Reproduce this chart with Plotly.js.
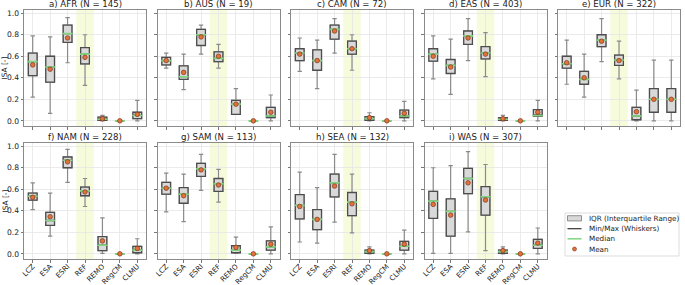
<!DOCTYPE html>
<html><head><meta charset="utf-8">
<script src="https://cdn.plot.ly/plotly-3.0.1.min.js"></script>
<style>html,body{margin:0;padding:0;background:#fff}#chart{width:685px;height:285px}</style>
</head><body><div id="chart"></div>
<script>
// ---------------- data ----------------
const categories = ['LCZ', 'ESA', 'ESRI', 'REF', 'REMO', 'RegCM', 'CLMU'];
const highlightCategory = 'REF';
const regionLabels = ['a) AFR', 'b) AUS', 'c) CAM', 'd) EAS', 'e) EUR', 'f) NAM', 'g) SAM', 'h) SEA', 'i) WAS'];
const regionN = [145, 19, 72, 403, 322, 228, 113, 132, 307];
const yTickValues = [0, 0.2, 0.4, 0.6, 0.8, 1.0];
const yAxisLabel = 'ISA [-]';

const minValues = [
  [0.22, 0.07, 0.54, 0.33, 0.00, 0, 0.00],
  [0.49, 0.29, 0.62, 0.49, 0.06, 0, 0.00],
  [0.46, 0.30, 0.63, 0.47, 0.00, 0, 0.00],
  [0.39, 0.245, 0.56, 0.41, 0.00, 0, 0.00],
  [0.34, 0.22, 0.55, 0.39, 0.00, 0.00, 0.00],
  [0.41, 0.165, 0.665, 0.44, 0.005, 0, 0.00],
  [0.39, 0.30, 0.59, 0.48, 0.005, 0, 0.00],
  [0.11, 0.10, 0.295, 0.195, 0.00, 0, 0.00],
  [0.005, 0.005, 0.205, 0.03, 0.00, 0, 0.00]
];
const q1Values = [
  [0.42, 0.36, 0.73, 0.53, 0.005, 0, 0.02],
  [0.52, 0.385, 0.70, 0.55, 0.06, 0, 0.03],
  [0.56, 0.47, 0.76, 0.62, 0.005, 0, 0.03],
  [0.555, 0.44, 0.71, 0.575, 0.005, 0, 0.045],
  [0.49, 0.34, 0.69, 0.515, 0.01, 0.08, 0.08],
  [0.50, 0.265, 0.80, 0.54, 0.03, 0, 0.01],
  [0.555, 0.47, 0.72, 0.58, 0.01, 0, 0.035],
  [0.325, 0.225, 0.53, 0.355, 0.005, 0, 0.035],
  [0.33, 0.165, 0.56, 0.36, 0.005, 0, 0.05]
];
const medianValues = [
  [0.55, 0.50, 0.81, 0.62, 0.015, 0, 0.05],
  [0.56, 0.41, 0.80, 0.58, 0.155, 0, 0.045],
  [0.63, 0.56, 0.85, 0.67, 0.02, 0, 0.045],
  [0.62, 0.515, 0.79, 0.63, 0.015, 0, 0.05],
  [0.53, 0.385, 0.75, 0.565, 0.045, 0.20, 0.20],
  [0.535, 0.31, 0.87, 0.585, 0.08, 0, 0.035],
  [0.61, 0.555, 0.79, 0.65, 0.035, 0, 0.065],
  [0.45, 0.32, 0.66, 0.48, 0.02, 0, 0.07],
  [0.49, 0.395, 0.70, 0.53, 0.02, 0, 0.08]
];
const q3Values = [
  [0.63, 0.60, 0.89, 0.68, 0.035, 0, 0.08],
  [0.59, 0.51, 0.85, 0.64, 0.19, 0, 0.125],
  [0.67, 0.66, 0.89, 0.74, 0.04, 0, 0.10],
  [0.67, 0.57, 0.835, 0.69, 0.03, 0, 0.105],
  [0.60, 0.46, 0.80, 0.61, 0.125, 0.30, 0.30],
  [0.565, 0.385, 0.90, 0.62, 0.16, 0, 0.07],
  [0.665, 0.615, 0.84, 0.70, 0.075, 0, 0.12],
  [0.55, 0.41, 0.74, 0.57, 0.035, 0, 0.115],
  [0.58, 0.51, 0.795, 0.625, 0.035, 0, 0.135]
];
const maxValues = [
  [0.79, 0.78, 0.96, 0.80, 0.05, 0, 0.19],
  [0.63, 0.62, 0.89, 0.71, 0.30, 0, 0.24],
  [0.77, 0.75, 0.95, 0.80, 0.075, 0, 0.18],
  [0.79, 0.76, 0.95, 0.82, 0.05, 0, 0.19],
  [0.75, 0.62, 0.95, 0.74, 0.285, 0.565, 0.565],
  [0.66, 0.565, 0.97, 0.70, 0.335, 0, 0.14],
  [0.75, 0.74, 0.925, 0.785, 0.155, 0, 0.25],
  [0.76, 0.615, 0.925, 0.74, 0.065, 0, 0.22],
  [0.80, 0.82, 0.95, 0.83, 0.065, 0, 0.24]
];
const meanValues = [
  [0.52, 0.48, 0.77, 0.59, 0.02, 0, 0.06],
  [0.56, 0.45, 0.78, 0.60, 0.155, 0, 0.08],
  [0.62, 0.56, 0.835, 0.67, 0.03, 0, 0.07],
  [0.60, 0.50, 0.77, 0.62, 0.02, 0, 0.08],
  [0.54, 0.40, 0.74, 0.56, 0.085, 0.20, 0.20],
  [0.525, 0.345, 0.855, 0.575, 0.12, 0, 0.05],
  [0.61, 0.54, 0.78, 0.64, 0.06, 0, 0.09],
  [0.44, 0.32, 0.63, 0.465, 0.03, 0, 0.09],
  [0.46, 0.36, 0.66, 0.50, 0.03, 0, 0.10]
];
const legendLabels = ['IQR (Interquartile Range)', 'Min/Max (Whiskers)', 'Median', 'Mean'];

// ---------------- styling / layout ----------------
const W = 685, H = 285;
const colLeft = [24, 157.5, 291, 424.5, 558], colWidth = 122;
const rowTop = [10, 143], rowHeight = 116;
const FONT = 'DejaVu Sans, sans-serif';
const boxFill = '#d9d9d9', boxEdge = '#4d4d4d', whiskerColor = '#8a8a8a';
const medianColor = '#7fd67f', meanColor = '#e4703a', meanEdge = '#7a3a1e';
const bandColor = '#f6fbdc';
const MEDIAN_HALF = 0.0015; // drawing thickness helper for the median line box
const px = v => v / W, py = v => 1 - v / H;

const traces = [];
const layout = {
  width: W, height: H,
  margin: {l: 0, r: 0, t: 0, b: 0},
  paper_bgcolor: '#fff', plot_bgcolor: '#fff',
  font: {family: FONT, size: 8, color: '#222'},
  showlegend: false,
  boxmode: 'overlay',
  shapes: [], annotations: []
};

const refIdx = categories.indexOf(highlightCategory);

regionLabels.forEach((lab, k) => {
  const row = Math.floor(k / 5), col = k % 5;
  const sfx = k === 0 ? '' : String(k + 1);
  const xa = 'x' + sfx, ya = 'y' + sfx;
  const x0 = colLeft[col], x1 = x0 + colWidth;
  const yTop = rowTop[row], yBot = yTop + rowHeight;

  layout['xaxis' + sfx] = {
    domain: [px(x0), px(x1)], anchor: ya,
    type: 'category', categoryorder: 'array', categoryarray: categories,
    range: [-0.5, categories.length - 0.5],
    showgrid: true, gridcolor: '#e6e6e6', gridwidth: 0.8,
    showline: true, mirror: true, linecolor: '#8a8a8a', linewidth: 1,
    ticks: 'outside', ticklen: 2.5, tickcolor: '#777',
    showticklabels: row === 1, tickangle: -45, ticklabelstandoff: -3,
    tickfont: {size: 7.2, family: FONT, color: '#222'},
    zeroline: false, automargin: false, fixedrange: true
  };
  layout['yaxis' + sfx] = {
    domain: [py(yBot), py(yTop)], anchor: xa,
    range: [-0.048, 1.03],
    tickvals: yTickValues, tickformat: '.1f',
    showgrid: true, gridcolor: '#e6e6e6', gridwidth: 0.8,
    showline: true, mirror: true, linecolor: '#8a8a8a', linewidth: 1,
    ticks: 'outside', ticklen: 2.5, tickcolor: '#777',
    showticklabels: col === 0,
    tickfont: {size: 7.6, family: FONT, color: '#222'},
    zeroline: false, automargin: false, fixedrange: true
  };

  // REF highlight band
  layout.shapes.push({
    type: 'rect', layer: 'below', xref: xa, yref: ya + ' domain',
    x0: refIdx - 0.5, x1: refIdx + 0.5, y0: 0, y1: 1,
    fillcolor: bandColor, line: {width: 0}
  });

  // title
  layout.annotations.push({
    text: lab + ' (N = ' + regionN[k] + ')', showarrow: false,
    xref: 'paper', yref: 'paper', x: px((x0 + x1) / 2), y: py(yTop),
    xanchor: 'center', yanchor: 'bottom', yshift: -1,
    font: {size: 8.6, family: FONT, color: '#222'}
  });
  if (col === 0) {
    layout.annotations.push({
      text: yAxisLabel, showarrow: false, textangle: -90,
      xref: 'paper', yref: 'paper', x: px(4.5), y: py((yTop + yBot) / 2),
      xanchor: 'center', yanchor: 'middle',
      font: {size: 7.4, family: FONT, color: '#222'}
    });
  }

  const common = {type: 'box', x: categories, xaxis: xa, yaxis: ya, width: 0.5,
                  hoverinfo: 'skip', showlegend: false, boxpoints: false};
  // whiskers (min / max)
  traces.push(Object.assign({}, common, {
    q1: q1Values[k], median: medianValues[k], q3: q3Values[k],
    lowerfence: minValues[k], upperfence: maxValues[k],
    fillcolor: boxFill, whiskerwidth: 0.5,
    line: {color: whiskerColor, width: 1.2}
  }));
  // IQR box
  traces.push(Object.assign({}, common, {
    q1: q1Values[k], median: medianValues[k], q3: q3Values[k],
    lowerfence: q1Values[k], upperfence: q3Values[k],
    fillcolor: boxFill, whiskerwidth: 0,
    line: {color: boxEdge, width: 1.3}
  }));
  // median line (a very thin box centred on the median)
  const mLo = medianValues[k].map(v => v - MEDIAN_HALF);
  const mHi = medianValues[k].map(v => v + MEDIAN_HALF);
  traces.push(Object.assign({}, common, {
    q1: mLo, median: medianValues[k], q3: mHi,
    lowerfence: mLo, upperfence: mHi,
    fillcolor: medianColor, whiskerwidth: 0,
    line: {color: medianColor, width: 1.3}
  }));
  // mean points
  traces.push({
    type: 'scatter', mode: 'markers', x: categories, y: meanValues[k],
    xaxis: xa, yaxis: ya, hoverinfo: 'skip', showlegend: false, cliponaxis: false,
    marker: {size: 4.6, color: meanColor, line: {color: meanEdge, width: 0.7}}
  });
});

// ---------------- legend (in the empty 10th cell) ----------------
const lg = {x0: 565, x1: 679, y0: 213, y1: 256};
layout.shapes.push({type: 'rect', xref: 'paper', yref: 'paper',
  x0: px(lg.x0), x1: px(lg.x1), y0: py(lg.y1), y1: py(lg.y0),
  fillcolor: '#fff', line: {color: '#d4d4d4', width: 0.8}});
const itemY = [218.3, 228.7, 238.8, 249];
const iconX0 = 567.5, iconX1 = 581.5, textX = 587;
layout.shapes.push({type: 'rect', xref: 'paper', yref: 'paper',
  x0: px(iconX0), x1: px(iconX1), y0: py(itemY[0] + 2.6), y1: py(itemY[0] - 2.6),
  fillcolor: boxFill, line: {color: '#777', width: 0.8}});
layout.shapes.push({type: 'line', xref: 'paper', yref: 'paper',
  x0: px(iconX0), x1: px(iconX1), y0: py(itemY[1]), y1: py(itemY[1]),
  line: {color: '#333', width: 1.2}});
layout.shapes.push({type: 'line', xref: 'paper', yref: 'paper',
  x0: px(iconX0), x1: px(iconX1), y0: py(itemY[2]), y1: py(itemY[2]),
  line: {color: medianColor, width: 1.5}});
const mc = (iconX0 + iconX1) / 2;
layout.shapes.push({type: 'circle', xref: 'paper', yref: 'paper',
  x0: px(mc - 2), x1: px(mc + 2), y0: py(itemY[3] + 2), y1: py(itemY[3] - 2),
  fillcolor: meanColor, line: {color: meanEdge, width: 0.6}});
legendLabels.forEach((t, i) => {
  layout.annotations.push({
    text: t, showarrow: false, xref: 'paper', yref: 'paper',
    x: px(textX), y: py(itemY[i]), xanchor: 'left', yanchor: 'middle',
    font: {size: 7.2, family: FONT, color: '#222'}
  });
});

Plotly.newPlot('chart', traces, layout, {staticPlot: true, displayModeBar: false});
</script>
</body></html>
